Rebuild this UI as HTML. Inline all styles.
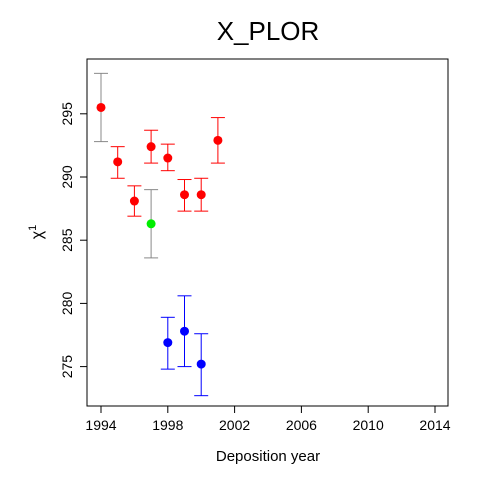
<!DOCTYPE html>
<html><head><meta charset="utf-8"><style>
body{margin:0;background:#fff}
svg text{font-family:"Liberation Sans",sans-serif}
</style></head><body>
<svg id="c" width="480" height="480">
<rect width="480" height="480" fill="#fff"/>
<text x="268" y="40" font-size="26" text-anchor="middle">X_PLOR</text>
<rect x="87" y="59" width="361" height="347" fill="none" stroke="#000"/>
<text x="268" y="461" font-size="15" text-anchor="middle">Deposition year</text>
<text transform="translate(42,232) rotate(-90)" font-size="16" text-anchor="middle">χ<tspan font-size="11" dy="-6">1</tspan></text>
<g id="ax"></g><g id="marks"></g>
</svg>
<script>
const xTicks=[1994,1998,2002,2006,2010,2014];
const yTicks=[275,280,285,290,295];
const years=[1994,1995,1996,1997,1997,1998,1998,1999,1999,2000,2000,2001];
const values=[295.5,291.2,288.1,292.4,286.3,291.5,276.9,288.6,277.8,288.6,275.2,292.9];
const lows=[292.8,289.9,286.9,291.1,283.6,290.5,274.8,287.3,275.0,287.3,272.7,291.1];
const highs=[298.2,292.4,289.3,293.7,289.0,292.6,278.9,289.8,280.6,289.9,277.6,294.7];
const colors=["red","red","red","red","#00ee00","red","blue","red","blue","red","blue","red"];
const barColors=["#888","red","red","red","#888","red","blue","red","blue","red","blue","red"];
const X=v=>101+(v-1994)*(334/20);
const Y=v=>177-(v-290)*12.64;
const NS="http://www.w3.org/2000/svg";
const ax=document.getElementById('ax'),mk=document.getElementById('marks');
function el(p,t,a){const e=document.createElementNS(NS,t);for(const k in a)e.setAttribute(k,a[k]);p.appendChild(e);return e;}
xTicks.forEach(t=>{
 const l=el(ax,'line',{x1:X(t),x2:X(t),y1:406,y2:413,stroke:'#000'});
 
 
 const s=el(ax,'text',{x:X(t),y:430,'font-size':14,'text-anchor':'middle'});s.textContent=t;
 
 
});
yTicks.forEach(t=>{
 const l=el(ax,'line',{x1:80,x2:87,y1:Y(t),y2:Y(t),stroke:'#000'});
 
 
 const s=el(ax,'text',{transform:`translate(72,${Y(t)}) rotate(-90)`,'font-size':14,'text-anchor':'middle'});s.textContent=t;
 
 
});
years.forEach((yr,i)=>{
 const x=X(yr),c=barColors[i];
 const g=el(mk,'g',{stroke:c,'stroke-width':1});
 
 
 el(g,'line',{x1:x,x2:x,y1:Y(lows[i]),y2:Y(highs[i])});
 el(g,'line',{x1:x-7,x2:x+7,y1:Y(lows[i]),y2:Y(lows[i])});
 el(g,'line',{x1:x-7,x2:x+7,y1:Y(highs[i]),y2:Y(highs[i])});
});
years.forEach((yr,i)=>{
 const p=el(mk,'circle',{cx:X(yr),cy:Y(values[i]),r:4.5,fill:colors[i]});
 
 
});
</script>
</body></html>
